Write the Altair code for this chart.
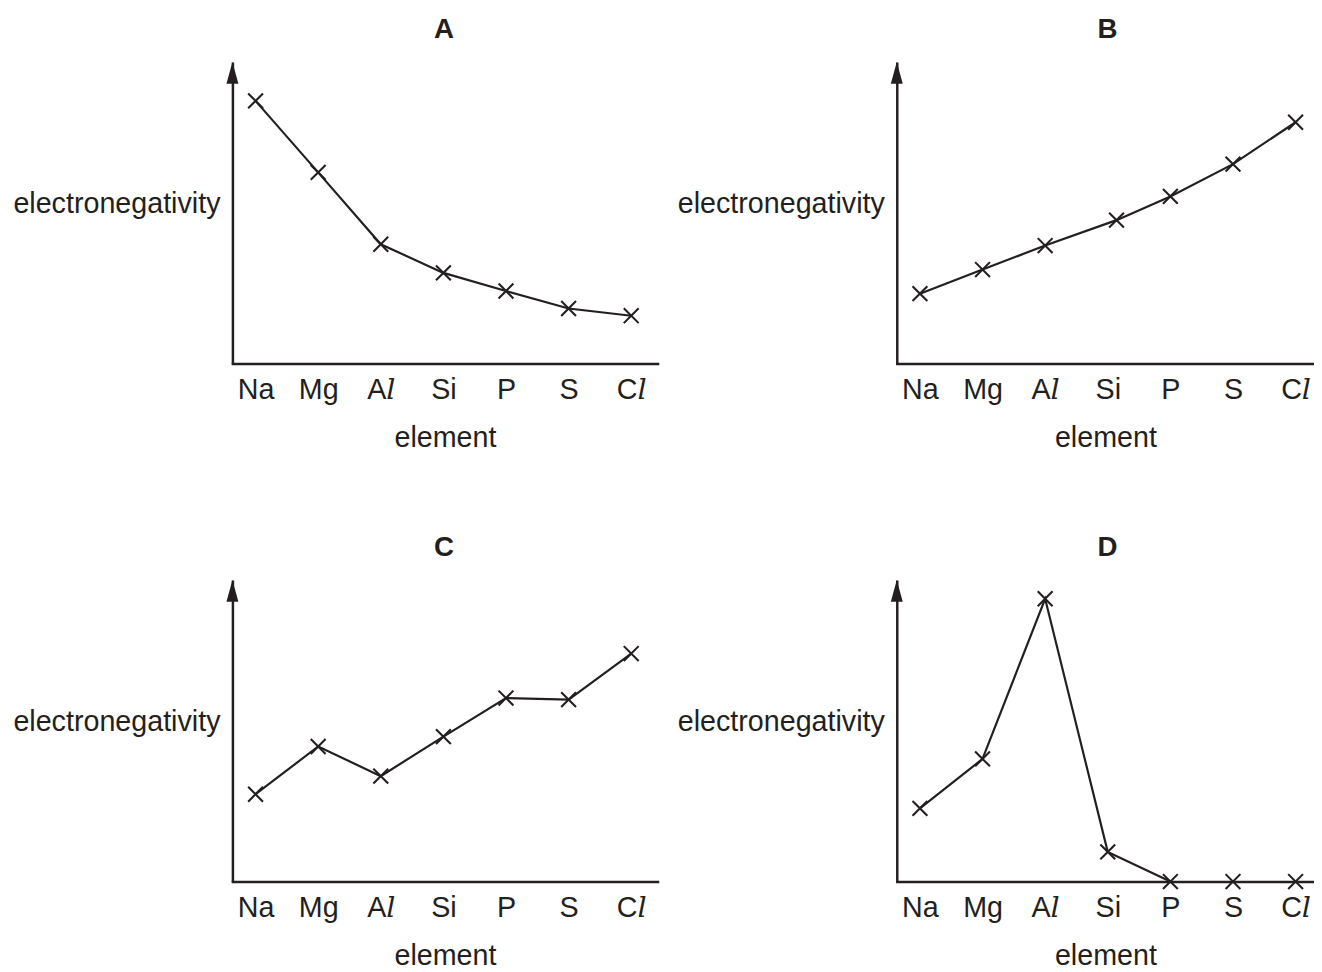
import json
import altair as alt
import pandas as pd

# ---------------- data ----------------
elements = ["Na", "Mg", "A\U0001D459", "Si", "P", "S", "C\U0001D459"]

a_x = [0, 1, 2, 3, 4, 5, 6]
a_y = [265.6, 193.3, 120.6, 91.6, 73.3, 55.6, 48.3]

b_x = [0, 1, 2, 3.14, 4, 5, 6]
b_y = [70.6, 95.0, 119.3, 145.0, 169.0, 201.6, 244.0]

c_x = [0, 1, 2, 3, 4, 5, 6]
c_y = [88.3, 136.6, 106.6, 146.6, 185.6, 184.0, 230.6]

d_x = [0, 1, 2, 3, 4, 5, 6]
d_y = [74.0, 124.0, 286.0, 30.0, 0.0, 0.0, 0.0]
d_joined = [True, True, True, True, True, False, False]

panel_titles = ["A", "B", "C", "D"]

# ---------------- styling / layout constants ----------------
INK = "#231f20"
FONT = "Liberation Sans, Arial, sans-serif"
LABEL_FONT = "Liberation Sans, DejaVu Serif, serif"
FS = 29
YMAX = 305          # arrow tip of the y axis
STEP = 63.33        # px between element positions
FIRST = 23.4        # px from y axis to first element
W_LEFT = 430
W_RIGHT = 422
H = 305

CROSS = "M-1,-1L1,1M-1,1L1,-1"
ARROW = "M0,-1L0.55,1L-0.55,1Z"

label_expr = json.dumps(elements) + "[datum.value]"


def panel(name, xs, ys, joined, width, title_dx):
    df = pd.DataFrame({"idx": xs, "value": ys, "joined": joined})
    x_lo = -FIRST / STEP
    x_hi = (width - FIRST) / STEP
    x_axis = alt.Axis(
        values=list(range(len(elements))),
        labelExpr=label_expr,
        labelFont=LABEL_FONT,
        labelFontSize=FS,
        labelColor=INK,
        labelBaseline="alphabetic",
        labelPadding=35,
        labelFlush=False,
        labelOverlap=False,
        labelBound=False,
        ticks=False,
        tickSize=0,
        grid=False,
        domainColor=INK,
        domainWidth=2.5,
        domainCap="square",
        title="element",
        titleFont=FONT,
        titleFontSize=FS,
        titleFontWeight="normal",
        titleColor=INK,
        titleBaseline="alphabetic",
        titleY=84,
    )
    y_axis = alt.Axis(
        labels=False,
        ticks=False,
        tickSize=0,
        grid=False,
        domainColor=INK,
        domainWidth=2.5,
        title="electronegativity",
        titleFont=FONT,
        titleFontSize=FS,
        titleFontWeight="normal",
        titleColor=INK,
        titleAngle=0,
        titleAlign="right",
        titleBaseline="alphabetic",
        titleX=-12.6,
        titleY=152,
    )
    x = alt.X("idx:Q", scale=alt.Scale(domain=[x_lo, x_hi], nice=False, zero=False), axis=x_axis)
    y = alt.Y("value:Q", scale=alt.Scale(domain=[0, YMAX], nice=False, zero=True), axis=y_axis)

    base = alt.Chart(df)
    line = base.transform_filter("datum.joined").mark_line(
        color=INK, strokeWidth=2.2, clip=False
    ).encode(x=x, y=y)
    pts = base.mark_point(
        shape=CROSS, size=225, filled=False, strokeWidth=2.1, color=INK, opacity=1, clip=False
    ).encode(x=x, y=y)
    arrow = alt.Chart(pd.DataFrame({"k": [0]})).mark_point(
        shape=ARROW, size=484, filled=True, color=INK, opacity=1, strokeWidth=0
    ).encode(x=alt.value(0), y=alt.value(11))

    return alt.layer(line, pts, arrow).properties(
        width=width,
        height=H,
        title=alt.TitleParams(
            text=name,
            font=FONT,
            fontSize=28,
            fontWeight="bold",
            color=INK,
            anchor="middle",
            frame="group",
            baseline="alphabetic",
            offset=-4,
            dx=title_dx,
        ),
    )


pa = panel(panel_titles[0], a_x, a_y, [True] * 7, W_LEFT, -1)
pb = panel(panel_titles[1], b_x, b_y, [True] * 7, W_RIGHT, 2)
pc = panel(panel_titles[2], c_x, c_y, [True] * 7, W_LEFT, -1)
pd_ = panel(panel_titles[3], d_x, d_y, d_joined, W_RIGHT, 2)

chart = alt.concat(
    pa, pb, pc, pd_,
    columns=2,
    spacing=alt.RowColnumber(row=219, column=242),
    bounds="flush",
).properties(
    padding={"left": 4, "top": 3, "right": 0, "bottom": 0},
    background="white",
).configure_view(stroke=None)

chart.save("out.html", embed_options={"renderer": "svg", "actions": False})
